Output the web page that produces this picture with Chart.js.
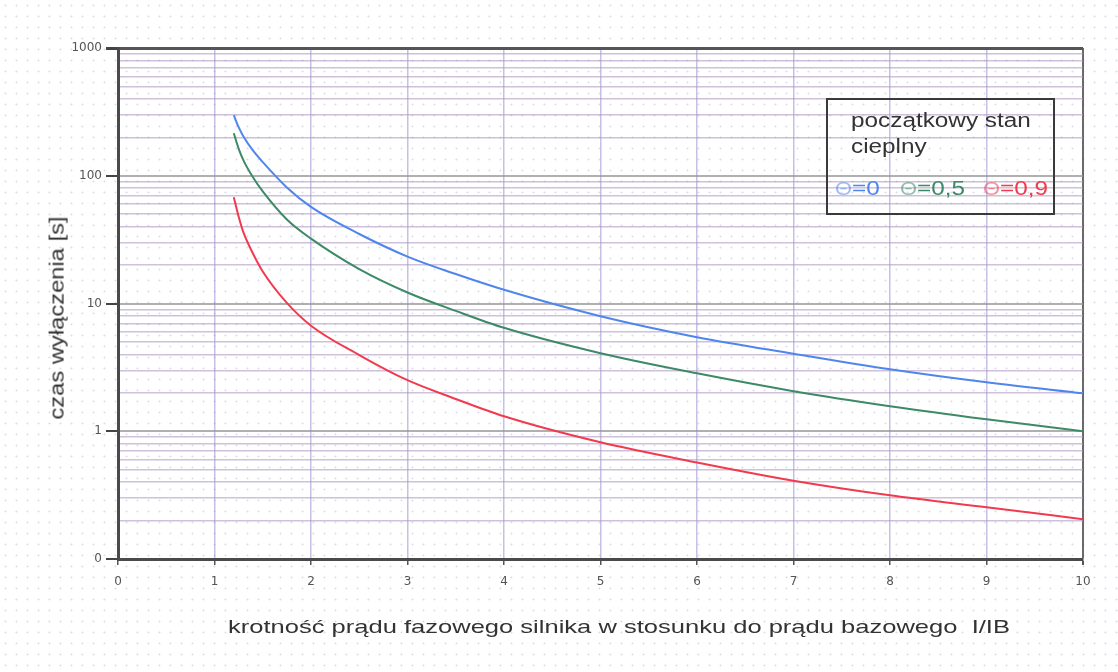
<!DOCTYPE html>
<html>
<head>
<meta charset="utf-8">
<script src="https://cdn.jsdelivr.net/npm/chart.js@4.4.0/dist/chart.umd.min.js"></script>
<style>
  html, body { margin:0; padding:0; }
  body {
    width:1118px; height:672px; overflow:hidden; position:relative;
    background-color:#ffffff;
    background-image: radial-gradient(rgba(140,140,190,0.30) 0.8px, transparent 1.2px);
    background-size: 11px 11px;
    font-family: "Liberation Sans", Arial, sans-serif;
  }
  #wrap { position:absolute; left:0; top:0; width:1118px; height:672px; }
  #legend {
    position:absolute; left:826px; top:98px; width:225px; height:113px;
    border:2px solid #3a3a3a; color:#333;
  }
  #legend div { position:absolute; font-size:20px; line-height:22px; white-space:nowrap; transform-origin:0 50%; }
  #legend .th { opacity:0.55; font-size:18px; }
  .axt { position:absolute; white-space:pre; color:#333; transform-origin:50% 50%; line-height:24px; }
</style>
</head>
<body>
<div id="wrap"><canvas id="c" width="1118" height="672"></canvas></div>
<div id="legend">
  <div id="lg1" style="left:23px;top:9px">początkowy stan</div>
  <div id="lg2" style="left:23px;top:35px">cieplny</div>
  <div id="lg3" style="left:7px;top:77px;color:#4f86ee"><span class="th">Θ</span>=0</div>
  <div id="lg4" style="left:72px;top:77px;color:#3d8a66"><span class="th">Θ</span>=0,5</div>
  <div id="lg5" style="left:155px;top:77px;color:#f23a4e"><span class="th">Θ</span>=0,9</div>
</div>
<div id="xt" class="axt" style="font-size:19px"></div>
<div id="yt" class="axt" style="font-size:20px"></div>
<script>
// ---- data ----
const xValues = [1.2, 1.25, 1.3, 1.4, 1.5, 1.75, 2, 2.5, 3, 3.5, 4, 5, 6, 7, 8, 9, 10];
const theta0  = [298, 240, 203, 157, 128, 81, 57, 35, 23.3, 17.0, 12.8, 7.95, 5.45, 4.05, 3.06, 2.42, 1.98];
const theta05 = [215, 163, 132, 97, 75.5, 45.5, 32.2, 18.6, 12.2, 8.75, 6.45, 4.08, 2.84, 2.06, 1.57, 1.24, 1.0];
const theta09 = [68, 48, 36, 24.5, 17.8, 10.1, 6.7, 3.95, 2.51, 1.79, 1.31, 0.82, 0.57, 0.41, 0.315, 0.254, 0.205];
const seriesNames = ["Θ=0", "Θ=0,5", "Θ=0,9"];
const xTickValues = [0,1,2,3,4,5,6,7,8,9,10];
const yDecades = [0.1, 1, 10, 100, 1000];
const yDecadeLabels = ["0", "1", "10", "100", "1000"];
const xTitle = "krotność prądu fazowego silnika w stosunku do prądu bazowego  I/IB";
const yTitle = "czas wyłączenia [s]";

// ---- titles (real text, stretched to the reference width) ----
function placeTitle(el, text, cx, cy, targetLen, rotate) {
  el.textContent = text;
  const w = el.offsetWidth, h = el.offsetHeight;
  const s = targetLen / w;
  el.style.left = (cx - w/2) + 'px';
  el.style.top = (cy - h/2) + 'px';
  el.style.transform = (rotate ? 'rotate(-90deg) ' : '') + 'scaleX(' + s + ')';
}
placeTitle(document.getElementById('xt'), xTitle, 619, 627, 782, false);
placeTitle(document.getElementById('yt'), yTitle, 56, 318, 203, true);
(function(){
  const l1 = document.getElementById('lg1');
  const s = 180 / l1.offsetWidth;
  ['lg1','lg2','lg3','lg4','lg5'].forEach(id => {
    document.getElementById(id).style.transform = 'scaleX(' + s + ')';
  });
})();

const toPts = arr => xValues.map((x,i)=>({x:x, y:arr[i]}));
const colors = ["#4f86ee", "#3d8a66", "#f23a4e"];
const isMajor = v => yDecades.some(d => Math.abs(v - d) < d*1e-6);

const yTicksAll = [];
for (let d = 0; d < yDecades.length - 1; d++) {
  for (let k = 1; k <= 9; k++) yTicksAll.push(k * yDecades[d]);
}
yTicksAll.push(yDecades[yDecades.length-1]);

const tickFont = { family: '"DejaVu Sans", sans-serif', size: 12 };

new Chart(document.getElementById('c'), {
  type: 'line',
  data: {
    datasets: [theta0, theta05, theta09].map((arr, i) => ({
      label: seriesNames[i],
      data: toPts(arr),
      borderColor: colors[i],
      borderWidth: 2,
      pointRadius: 0,
      fill: false,
      cubicInterpolationMode: 'monotone'
    }))
  },
  options: {
    responsive: false,
    animation: false,
    devicePixelRatio: 1,
    layout: { padding: { top: 48, right: 35, left: 0, bottom: 0 } },
    plugins: { legend: { display: false }, tooltip: { enabled: false } },
    scales: {
      x: {
        type: 'linear', min: 0, max: 10,
        afterBuildTicks: s => { s.ticks = xTickValues.map(v => ({value: v})); },
        afterFit: s => { s.height = 113; },
        border: { color: '#4a4a4a', width: 3 },
        grid: {
          color: c => c.tick && c.tick.value === 10 ? '#6a6a6a' : (c.tick && c.tick.value === 0 ? 'rgba(0,0,0,0)' : 'rgba(150,140,205,0.55)'),
          lineWidth: c => c.tick && c.tick.value === 10 ? 2 : 1.5,
          tickColor: '#555',
          tickLength: 6,
          drawTicks: true
        },
        ticks: {
          autoSkip: false, maxRotation: 0, padding: 10,
          color: '#555',
          font: tickFont,
          callback: v => String(v)
        },
        title: { display: false }
      },
      y: {
        type: 'logarithmic', min: 0.1, max: 1000,
        afterBuildTicks: s => { s.ticks = yTicksAll.map(v => ({value: v, major: isMajor(v)})); },
        afterFit: s => { s.width = 118; },
        border: { color: '#4a4a4a', width: 3 },
        grid: {
          color: c => {
            const v = c.tick ? c.tick.value : 0;
            if (Math.abs(v - 1000) < 1e-6) return '#555';
            return isMajor(v) ? 'rgba(150,150,150,0.75)' : 'rgba(175,150,195,0.6)';
          },
          lineWidth: c => {
            const v = c.tick ? c.tick.value : 0;
            if (Math.abs(v - 1000) < 1e-6) return 3;
            return isMajor(v) ? 2 : 1.5;
          },
          tickColor: c => (c.tick && isMajor(c.tick.value)) ? '#444' : 'rgba(0,0,0,0)',
          tickLength: 12,
          drawTicks: true
        },
        ticks: {
          autoSkip: false, padding: 4,
          color: '#555',
          font: tickFont,
          callback: v => {
            const idx = yDecades.findIndex(d => Math.abs(v - d) < d*1e-6);
            return idx >= 0 ? yDecadeLabels[idx] : '';
          }
        },
        title: { display: false }
      }
    }
  }
});
</script>
</body>
</html>
